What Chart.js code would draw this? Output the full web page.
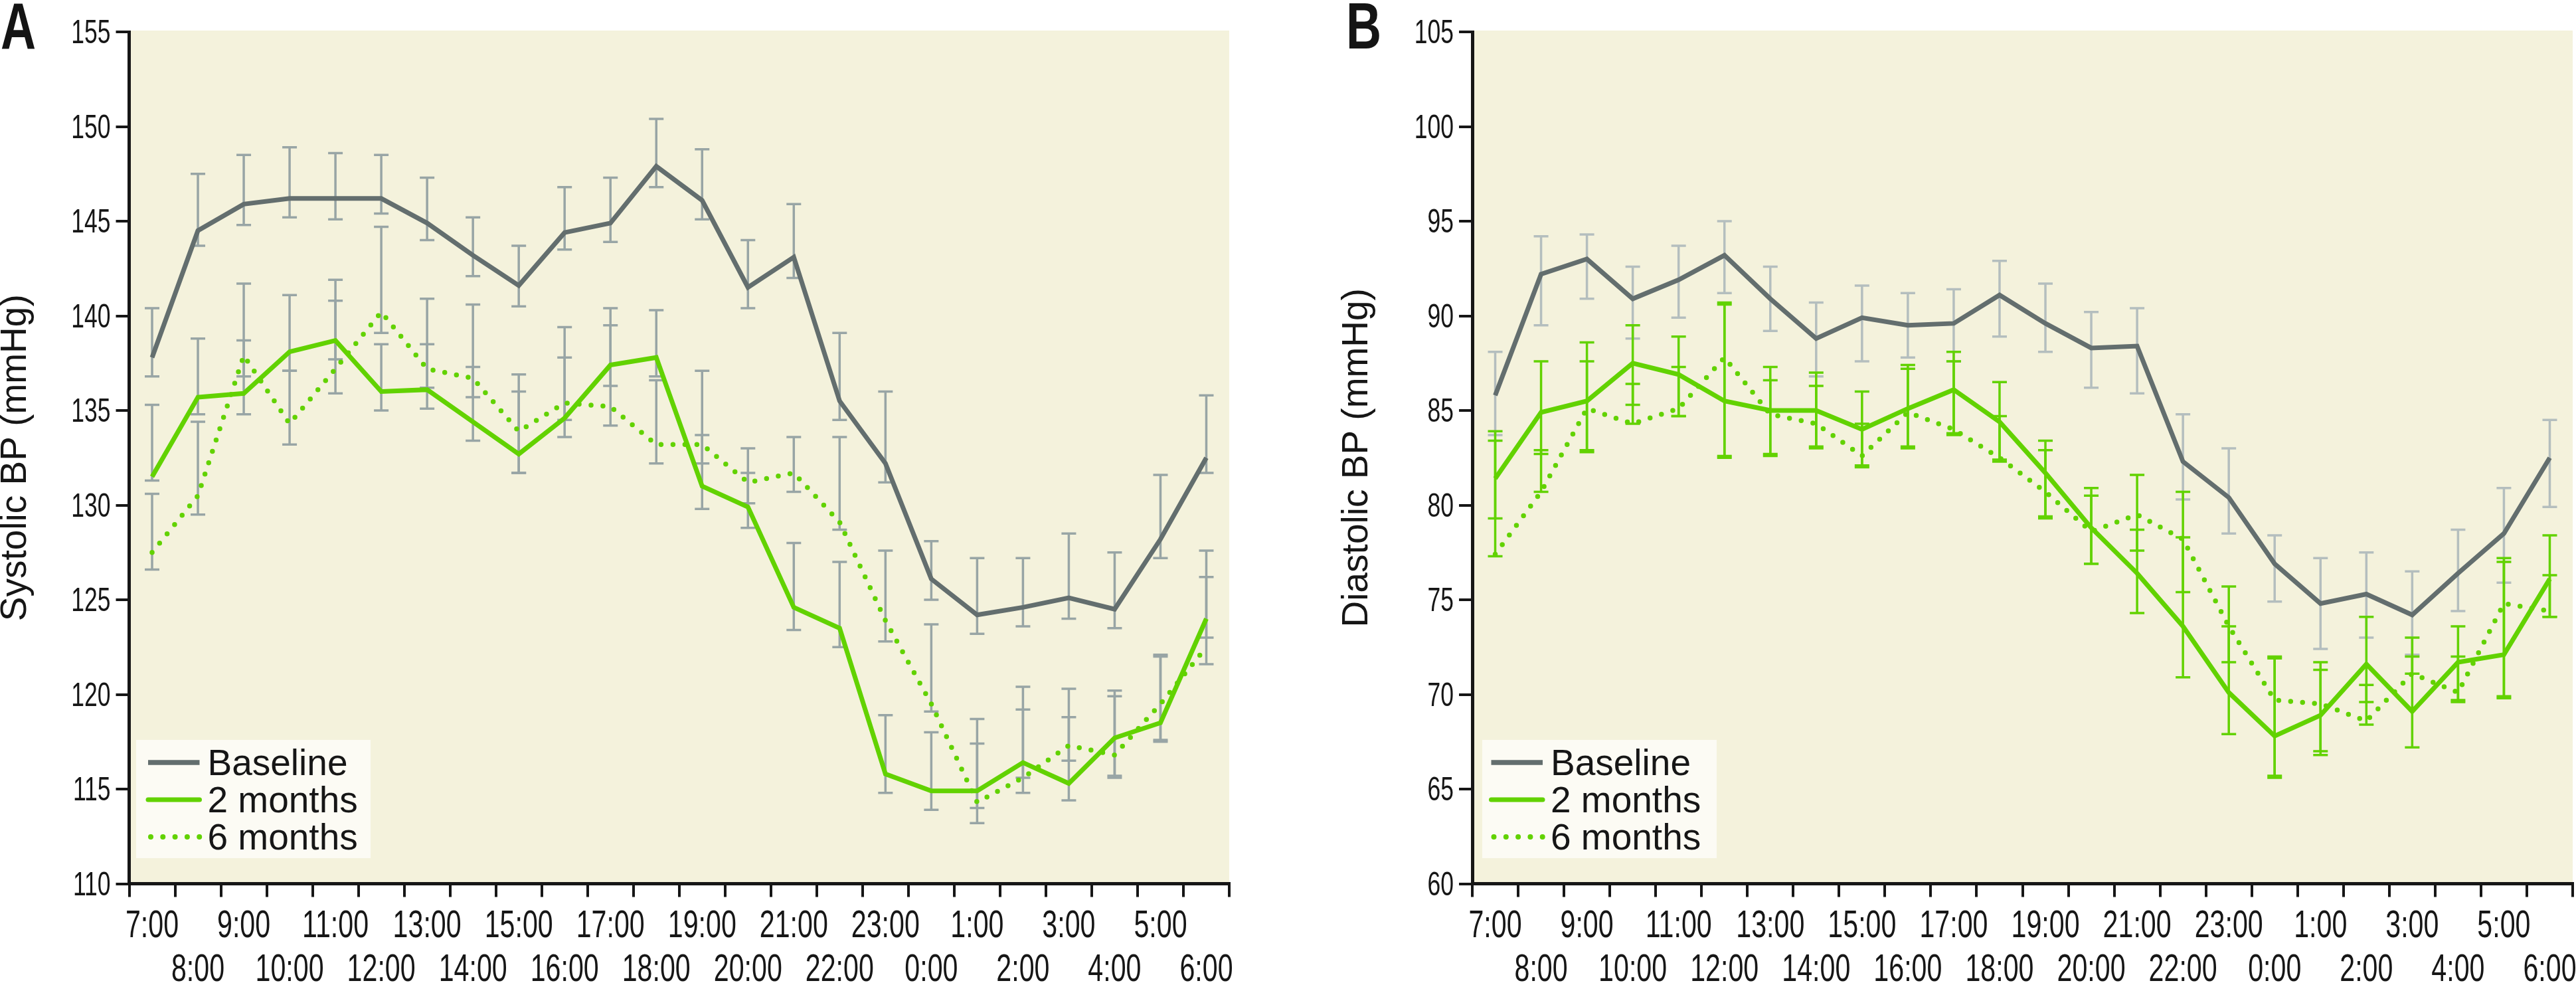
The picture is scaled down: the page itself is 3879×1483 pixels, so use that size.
<!DOCTYPE html>
<html>
<head>
<meta charset="utf-8">
<script src="https://cdn.jsdelivr.net/npm/chart.js@4.4.1/dist/chart.umd.min.js"></script>
<style>
html,body{margin:0;padding:0;background:#ffffff;width:3879px;height:1483px;overflow:hidden;position:relative}
canvas{position:absolute;top:0}
.letter{position:absolute;font-family:"Liberation Sans",Arial,sans-serif;font-weight:bold;font-size:98px;line-height:98px;color:#141414;transform:scaleX(0.75);transform-origin:0 0}
</style>
</head>
<body>
<canvas id="cA" width="1880" height="1483" style="left:0px"></canvas>
<canvas id="cB" width="1899" height="1483" style="left:1980px"></canvas>
<div class="letter" style="left:1px;top:-10px">A</div>
<div class="letter" style="left:2027px;top:-10px">B</div>
<script>
// ---------- categories ----------
const hours = ['7:00','8:00','9:00','10:00','11:00','12:00','13:00','14:00','15:00','16:00','17:00','18:00',
               '19:00','20:00','21:00','22:00','23:00','0:00','1:00','2:00','3:00','4:00','5:00','6:00'];
const seriesNames = ['Baseline','2 months','6 months'];

// ---------- Panel A: systolic BP (mmHg) ----------
const sysMin = 110, sysMax = 155, sysStep = 5;
const sysBaseline   = [137.8,144.5,145.9,146.2,146.2,146.2,144.9,143.2,141.6,144.4,144.9,147.9,146.1,141.5,143.1,135.5,132.2,126.1,124.2,124.6,125.1,124.5,128.2,132.5];
const sysBaselineLo = [136.8,143.7,144.8,145.2,145.1,145.4,144.0,142.1,140.5,143.5,143.9,146.8,145.1,140.4,142.0,134.5,131.2,125.0,123.2,123.6,124.0,123.5,127.2,131.7];
const sysBaselineHi = [140.4,147.5,148.5,148.9,148.6,148.5,147.3,145.2,143.7,146.8,147.3,150.4,148.8,144.0,145.9,139.1,136.0,128.1,127.2,127.2,128.5,127.5,131.6,135.8];
const sys2m   = [131.5,135.7,135.9,138.1,138.7,136.0,136.1,134.4,132.7,134.6,137.4,137.8,131.0,129.9,124.6,123.5,115.8,114.9,114.9,116.4,115.3,117.7,118.5,124.0];
const sys2mLo = [131.3,134.8,134.8,137.1,137.7,135.0,135.1,133.4,131.7,133.6,136.3,136.8,129.8,128.8,123.4,122.5,114.8,113.9,113.2,115.6,114.4,115.6,117.5,123.0];
const sys2mHi = [135.3,138.8,138.7,141.1,141.9,138.5,138.5,137.3,136.0,137.8,140.4,140.3,133.7,131.7,128.0,127.0,118.9,118.0,117.4,120.4,118.8,120.2,122.1,127.6];
const sys6m   = [127.5,130.5,137.9,134.3,137.2,140.2,137.2,136.7,133.9,135.4,135.2,133.2,133.2,131.2,131.7,129.1,123.9,119.5,114.3,115.6,117.3,116.8,119.5,122.5];
const sys6mLo = [126.6,129.5,136.8,133.2,135.9,139.1,136.2,135.7,131.7,134.5,134.2,132.2,132.2,130.1,130.7,128.7,122.8,119.1,114.0,114.8,116.5,115.7,117.6,121.6];
const sys6mHi = [130.6,134.4,141.7,137.1,140.8,144.7,140.9,140.6,136.9,139.4,139.5,136.6,137.1,133.0,133.6,133.6,127.6,123.7,118.7,119.2,120.3,119.9,122.0,126.2];

// ---------- Panel B: diastolic BP (mmHg) ----------
const diaMin = 60, diaMax = 105, diaStep = 5;
const diaBaseline   = [85.8,92.2,93.0,90.9,91.9,93.2,90.9,88.8,89.9,89.5,89.6,91.1,89.6,88.3,88.4,82.3,80.4,76.9,74.8,75.3,74.2,76.4,78.5,82.5];
const diaBaselineLo = [83.7,89.5,90.9,88.8,89.9,91.2,89.2,86.8,87.6,87.8,87.6,88.9,88.1,86.2,85.9,80.3,78.5,74.9,72.4,73.0,72.1,74.4,75.9,79.9];
const diaBaselineHi = [88.1,94.2,94.3,92.6,93.7,95.0,92.6,90.7,91.6,91.2,91.4,92.9,91.7,90.2,90.4,84.8,83.0,78.4,77.2,77.5,76.5,78.7,80.9,84.5];
const dia2m   = [81.4,84.9,85.5,87.5,86.9,85.5,85.0,85.0,84.0,85.1,86.1,84.4,81.7,78.8,76.4,73.6,70.1,67.8,68.9,71.6,69.1,71.7,72.1,76.1];
const dia2mLo = [79.3,82.7,82.9,85.3,84.7,82.5,82.6,83.0,82.1,83.0,83.8,82.4,79.3,76.9,74.3,70.9,67.9,65.6,66.8,69.6,67.2,69.6,69.8,74.1];
const dia2mHi = [83.4,87.6,88.6,89.5,88.9,90.7,87.3,87.0,86.0,87.4,88.1,86.5,83.4,80.9,78.7,78.3,73.6,72.0,71.7,74.1,72.0,73.6,77.2,78.4];
const dia6m   = [77.4,80.7,85.1,84.3,85.1,87.8,84.8,84.3,82.6,84.9,84.0,82.5,80.7,78.6,79.5,78.2,73.6,69.7,69.5,68.6,71.1,70.1,74.8,74.4];
const dia6mLo = [77.3,80.7,82.8,84.3,84.7,82.6,82.7,83.1,82.0,83.1,83.7,82.3,79.4,76.9,77.6,75.4,71.7,65.7,67.0,68.4,71.1,69.7,69.9,74.1];
const dia6mHi = [83.9,82.9,87.6,86.4,87.3,90.6,86.6,86.3,84.3,87.2,87.6,84.7,82.9,80.5,81.6,80.7,75.7,71.9,71.3,70.5,73.0,72.0,77.0,76.3];

// ---------- styles ----------
const INK = '#161616';
const GREY = '#636e6e';
const GREEN = '#62d200';
const PLOT_BG = '#f4f2dc';
const LEGEND_BG = '#fcfbf4';
const TICKFONT = '"Liberation Sans", Arimo, sans-serif';   // drawn horizontally condensed
const SANS = '"Liberation Sans", Arial, sans-serif';
const SQUEEZE = 0.71;

// two-row x labels: odd hours on top row, even hours on second row
const xLabels = hours.map((h, i) => (i % 2 === 0 ? [h, ''] : ['', h]));

// condensed rendering for tick-label text (real canvas text, horizontally scaled via maxWidth)
function condenseTicks(canvas) {
  const ctx = canvas.getContext('2d');
  const orig = CanvasRenderingContext2D.prototype.fillText;
  ctx.fillText = function (text, x, y, maxWidth) {
    if (text !== '' && String(this.font).indexOf('Arimo') >= 0) {
      const w = this.measureText(text).width * SQUEEZE;
      return orig.call(this, text, x, y, maxWidth === undefined ? w : Math.min(w, maxWidth));
    }
    return maxWidth === undefined ? orig.call(this, text, x, y) : orig.call(this, text, x, y, maxWidth);
  };
  return canvas;
}

const plotBg = {
  id: 'plotBg',
  beforeDraw(chart) {
    const {ctx, chartArea: a} = chart;
    ctx.save();
    ctx.fillStyle = PLOT_BG;
    ctx.fillRect(a.left, a.top - 2, a.right - a.left, a.bottom - a.top + 2);
    ctx.restore();
  }
};

const errorBars = {
  id: 'errorBars',
  beforeDatasetsDraw(chart) {
    const {ctx} = chart;
    const xs = chart.scales.x, ys = chart.scales.y;
    ctx.save();
    ctx.lineWidth = 3.5;
    ctx.lineCap = 'butt';
    ctx.setLineDash([]);
    chart.data.datasets.forEach(ds => {
      if (!ds.errLo) return;
      ctx.strokeStyle = ds.errColor;
      ds.errLo.forEach((lo, i) => {
        const hi = ds.errHi[i];
        const px = xs.getPixelForValue(i);
        const pl = ys.getPixelForValue(lo);
        const ph = ys.getPixelForValue(hi);
        ctx.beginPath();
        ctx.moveTo(px, pl); ctx.lineTo(px, ph);
        ctx.moveTo(px - 11, pl); ctx.lineTo(px + 11, pl);
        ctx.moveTo(px - 11, ph); ctx.lineTo(px + 11, ph);
        ctx.stroke();
      });
    });
    ctx.restore();
  }
};

const boxLegend = {
  id: 'boxLegend',
  afterDatasetsDraw(chart, args, opts) {
    const {ctx, chartArea: a} = chart;
    const rx = a.left + opts.dx, ry = a.bottom - 216.5;
    ctx.save();
    ctx.fillStyle = LEGEND_BG;
    ctx.fillRect(rx, ry, 353, 178);
    ctx.font = '55px ' + SANS;
    ctx.textBaseline = 'alphabetic';
    ctx.textAlign = 'left';
    chart.data.datasets.forEach((ds, i) => {
      const ly = ry + 34 + i * 56;
      ctx.beginPath();
      ctx.strokeStyle = ds.borderColor;
      ctx.lineWidth = ds.legendWidth;
      ctx.lineCap = ds.legendCap;
      ctx.setLineDash(ds.legendDash);
      ctx.moveTo(a.left + ds.legendStart, ly);
      ctx.lineTo(a.left + 106, ly);
      ctx.stroke();
      ctx.setLineDash([]);
      ctx.fillStyle = INK;
      ctx.fillText(ds.label, a.left + 118, ly + 18.5);
    });
    ctx.restore();
  }
};

function build(id, o) {
  return new Chart(condenseTicks(document.getElementById(id)), {
    type: 'line',
    data: {
      labels: xLabels,
      datasets: [
        {label: seriesNames[0], data: o.base, errLo: o.baseLo, errHi: o.baseHi, errColor: o.baseErr,
         borderColor: GREY, backgroundColor: GREY, borderWidth: 7, pointRadius: 0, tension: 0,
         borderJoinStyle: 'miter', borderCapStyle: 'butt',
         legendWidth: 7.5, legendCap: 'butt', legendDash: [], legendStart: 28.5},
        {label: seriesNames[1], data: o.m2, errLo: o.m2Lo, errHi: o.m2Hi, errColor: o.greenErr,
         borderColor: GREEN, backgroundColor: GREEN, borderWidth: 7, pointRadius: 0, tension: 0,
         borderJoinStyle: 'miter', borderCapStyle: 'butt',
         legendWidth: 7, legendCap: 'round', legendDash: [], legendStart: 28.5},
        {label: seriesNames[2], data: o.m6, errLo: o.m6Lo, errHi: o.m6Hi, errColor: o.greenErr,
         borderColor: GREEN, backgroundColor: GREEN, borderWidth: 7.5, pointRadius: 0, tension: 0,
         borderDash: [0, 18], borderCapStyle: 'round', borderJoinStyle: 'round',
         legendWidth: 8, legendCap: 'round', legendDash: [0, 18.3], legendStart: 32.5}
      ]
    },
    options: {
      responsive: false,
      devicePixelRatio: 1,
      animation: false,
      events: [],
      layout: {padding: {left: 0, right: o.padRight, top: 48, bottom: 0}},
      plugins: {
        legend: {display: false},
        tooltip: {enabled: false},
        boxLegend: {dx: o.legendDx}
      },
      scales: {
        x: {
          type: 'category',
          offset: true,
          grid: {display: true, drawOnChartArea: false, drawTicks: true, tickLength: 20, lineWidth: 4, color: INK, offset: true},
          border: {display: true, width: 5, color: INK},
          ticks: {autoSkip: false, maxRotation: 0, minRotation: 0, padding: 11.5, color: INK,
                  font: {family: TICKFONT, size: 58, lineHeight: 66 / 58}},
          afterFit: s => { s.height = 152.5; s.paddingLeft = 0; s.paddingRight = 0; }
        },
        y: {
          type: 'linear',
          min: o.min, max: o.max,
          grid: {display: true, drawOnChartArea: false, drawTicks: true, tickLength: 20, lineWidth: 4, color: INK},
          border: {display: true, width: 5, color: INK},
          ticks: {stepSize: o.step, padding: 8, labelOffset: 3.5, color: INK, font: {family: TICKFONT, size: 50}},
          title: {display: true, text: o.title, color: INK,
                  font: {family: SANS, size: 55, lineHeight: 0.85}, padding: {top: o.titlePad, bottom: 0}},
          afterFit: s => { s.width = o.yWidth; s.paddingTop = 0; s.paddingBottom = 0; }
        }
      }
    },
    plugins: [plotBg, errorBars, boxLegend]
  });
}

build('cA', {
  base: sysBaseline, baseLo: sysBaselineLo, baseHi: sysBaselineHi,
  m2: sys2m, m2Lo: sys2mLo, m2Hi: sys2mHi,
  m6: sys6m, m6Lo: sys6mLo, m6Hi: sys6mHi,
  baseErr: '#98a5a5', greenErr: '#98a5a5',
  min: sysMin, max: sysMax, step: sysStep,
  title: 'Systolic BP (mmHg)', titlePad: 0, yWidth: 194.5, padRight: 29, legendDx: 10.5
});

build('cB', {
  base: diaBaseline, baseLo: diaBaselineLo, baseHi: diaBaselineHi,
  m2: dia2m, m2Lo: dia2mLo, m2Hi: dia2mHi,
  m6: dia6m, m6Lo: dia6mLo, m6Hi: dia6mHi,
  baseErr: '#b4bebe', greenErr: GREEN,
  min: diaMin, max: diaMax, step: diaStep,
  title: 'Diastolic BP (mmHg)', titlePad: 40.6, yWidth: 237, padRight: 5, legendDx: 15
});
</script>
</body>
</html>
